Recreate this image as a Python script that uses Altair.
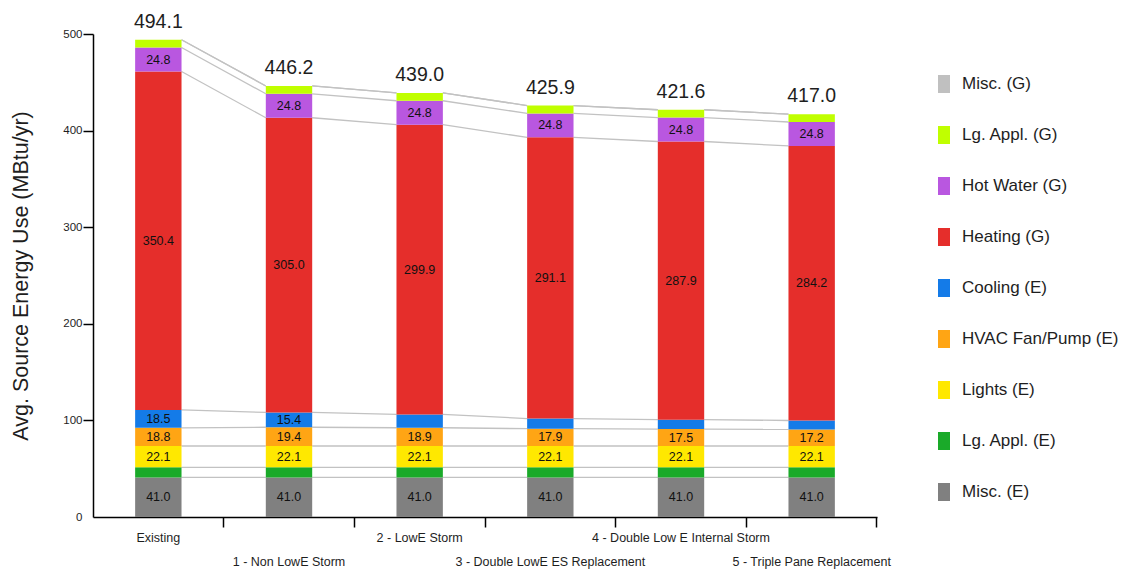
import json
import altair as alt
import pandas as pd

categories = [
    "Existing",
    "1 - Non LowE Storm",
    "2 - LowE Storm",
    "3 - Double LowE ES Replacement",
    "4 - Double Low E Internal Storm",
    "5 - Triple Pane Replacement",
]

# stacking order: bottom -> top
series_names = [
    "Misc. (E)", "Lg. Appl. (E)", "Lights (E)", "HVAC Fan/Pump (E)", "Cooling (E)",
    "Heating (G)", "Hot Water (G)", "Lg. Appl. (G)", "Misc. (G)",
]
series_colors = [
    "#808080", "#1AAA29", "#FFE800", "#FFA514", "#147BE8",
    "#E52E2B", "#B957E0", "#C0FF00", "#C0C0C0",
]

misc_e = [41.0, 41.0, 41.0, 41.0, 41.0, 41.0]
lg_appl_e = [10.4, 10.4, 10.4, 10.4, 10.4, 10.4]
lights_e = [22.1, 22.1, 22.1, 22.1, 22.1, 22.1]
hvac_e = [18.8, 19.4, 18.9, 17.9, 17.5, 17.2]
cooling_e = [18.5, 15.4, 13.8, 10.5, 9.8, 9.2]
heating_g = [350.4, 305.0, 299.9, 291.1, 287.9, 284.2]
hot_water_g = [24.8, 24.8, 24.8, 24.8, 24.8, 24.8]
lg_appl_g = [8.1, 8.1, 8.1, 8.1, 8.1, 8.1]
misc_g = [0.0, 0.0, 0.0, 0.0, 0.0, 0.0]

totals = [494.1, 446.2, 439.0, 425.9, 421.6, 417.0]

series_values = [misc_e, lg_appl_e, lights_e, hvac_e, cooling_e,
                 heating_g, hot_water_g, lg_appl_g, misc_g]

FONT = "Liberation Sans"
TXT = "#1e1e1e"

rows = []
tops = []
for ci, c in enumerate(categories):
    base = 0.0
    t = []
    for si, s in enumerate(series_names):
        v = series_values[si][ci]
        rows.append(dict(cat=c, series=s, si=si, value=v, y0=base, y1=base + v))
        base += v
        t.append(base)
    tops.append(t)
df = pd.DataFrame(rows)

conn = []
for ci in range(len(categories) - 1):
    for si, s in enumerate(series_names):
        conn.append(dict(cat=categories[ci], cat2=categories[ci + 1], series=s,
                         ya=tops[ci][si], yb=tops[ci + 1][si]))
conn_df = pd.DataFrame(conn)

tot_df = pd.DataFrame({"cat": categories, "total": totals})

legend_order = series_names[::-1]
legend_colors = series_colors[::-1]

xscale = alt.Scale(domain=categories, paddingInner=0, paddingOuter=0)
yscale = alt.Scale(domain=[0, 500], nice=False)

label_expr = (
    f"indexof({json.dumps(categories)}, datum.value) % 2 == 1 ? ['', datum.label] : datum.label"
)

xaxis = alt.Axis(
    title=None, labelAngle=0, labelAlign="center", labelExpr=label_expr, labelFont=FONT,
    labelFontSize=12.5, labelColor=TXT, labelPadding=4, labelLineHeight=24,
    labelBaseline="top", labelOverlap=False, labelLimit=0, bandPosition=1,
    tickSize=10, tickColor="#000", tickWidth=1.5, domainColor="#000", domainWidth=1.5,
)
yaxis = alt.Axis(
    values=[0, 100, 200, 300, 400, 500], title="Avg. Source Energy Use (MBtu/yr)",
    titleFont=FONT, titleFontSize=21.5, titleFontWeight="normal", titleColor=TXT,
    titlePadding=30, labelFont=FONT, labelFontSize=11.5, labelColor=TXT, labelPadding=1,
    tickSize=10, tickColor="#000", tickWidth=1.5, domainColor="#000", domainWidth=1.5,
    grid=False,
    tickOpacity={"condition": {"test": "datum.value == 0", "value": 0}, "value": 1},
)

X = alt.X("cat:N", scale=xscale, axis=xaxis, sort=categories)

bars = alt.Chart(df).mark_bar(width=alt.RelativeBandSize(0.355)).encode(
    x=X,
    y=alt.Y("y0:Q", scale=yscale, axis=yaxis),
    y2="y1:Q",
    color=alt.Color(
        "series:N",
        scale=alt.Scale(domain=legend_order, range=legend_colors),
        legend=alt.Legend(
            title=None, orient="none", legendX=842, legendY=41,
            symbolType="M-0.667,-1H0.667V1H-0.667Z", symbolSize=324,
            symbolStrokeWidth=0, symbolOpacity=1, rowPadding=33, labelOffset=9,
            labelFont=FONT, labelFontSize=17, labelColor=TXT,
        ),
    ),
)

connectors = alt.Chart(conn_df).mark_rule(color="#C2C2C2", strokeWidth=1.3).encode(
    x=alt.X("cat:N", scale=xscale, sort=categories, bandPosition=0.6775),
    x2=alt.X2("cat2", bandPosition=0.3225),
    y=alt.Y("ya:Q", scale=yscale),
    y2="yb:Q",
)

seg_labels = alt.Chart(df).transform_filter("datum.value >= 15").transform_calculate(
    ymid="(datum.y0 + datum.y1) / 2"
).mark_text(font=FONT, fontSize=12.5, color="#111").encode(
    x=X,
    y=alt.Y("ymid:Q", scale=yscale),
    text=alt.Text("value:Q", format=".1f"),
)

total_labels = alt.Chart(tot_df).mark_text(
    font=FONT, fontSize=19.5, color=TXT, baseline="alphabetic", dy=-12
).encode(
    x=X,
    y=alt.Y("total:Q", scale=yscale),
    text=alt.Text("total:Q", format=".1f"),
)

chart = alt.layer(connectors, bars, seg_labels, total_labels).properties(
    width=784, height=483,
    autosize=alt.AutoSizeParams(type="none"),
    padding={"left": 85, "top": 26, "right": 243, "bottom": 52},
    background="white",
).configure_view(stroke=None)

chart.save("out.html", embed_options={"renderer": "svg", "actions": False})
